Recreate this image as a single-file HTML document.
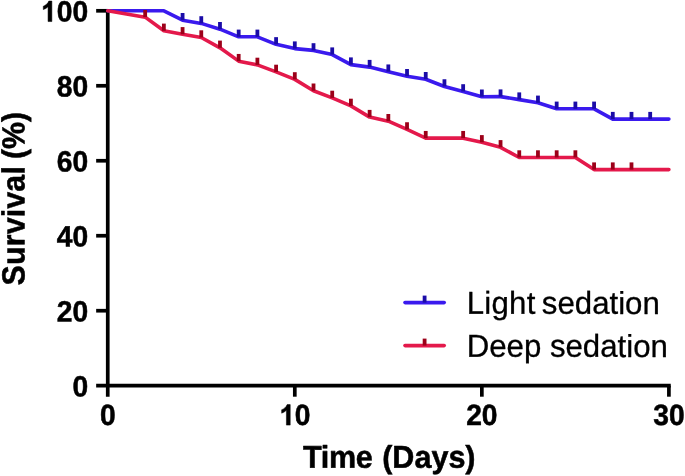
<!DOCTYPE html>
<html><head><meta charset="utf-8"><title>Survival</title>
<style>
html,body{margin:0;padding:0;background:#fff;}
body{width:685px;height:476px;position:relative;overflow:hidden;font-family:"Liberation Sans",sans-serif;}
</style></head><body>
<svg width="685" height="476" viewBox="0 0 685 476" style="position:absolute;left:0;top:0;will-change:transform">
<rect width="685" height="476" fill="#fff"/>
<g stroke="#000" stroke-width="3.7" fill="none">
<line x1="107.75" y1="8.950000000000001" x2="107.75" y2="396.7"/>
<line x1="96.15" y1="385.7" x2="670.75" y2="385.7"/>
<line x1="96.15" y1="310.72" x2="107.75" y2="310.72"/>
<line x1="96.15" y1="235.74" x2="107.75" y2="235.74"/>
<line x1="96.15" y1="160.76" x2="107.75" y2="160.76"/>
<line x1="96.15" y1="85.78" x2="107.75" y2="85.78"/>
<line x1="96.15" y1="10.80" x2="107.75" y2="10.80"/>
<line x1="294.80" y1="385.7" x2="294.80" y2="396.7"/>
<line x1="481.85" y1="385.7" x2="481.85" y2="396.7"/>
<line x1="668.90" y1="385.7" x2="668.90" y2="396.7"/>
</g>
<polyline points="107.75,10.80 126.45,10.80 145.16,10.80 163.87,10.80 182.57,20.20 201.27,23.40 219.98,29.20 238.69,36.80 257.39,36.80 276.09,44.35 294.80,48.60 313.50,50.40 332.21,54.60 350.91,64.60 369.62,67.10 388.32,71.65 407.03,76.20 425.73,79.20 444.44,86.45 463.14,91.40 481.85,96.70 500.55,96.60 519.26,99.60 537.96,102.80 556.67,108.80 575.38,108.80 594.08,108.80 612.78,119.10 631.49,119.10 650.19,119.10 668.90,119.10" fill="none" stroke="#3a1aee" stroke-width="3.6" stroke-linejoin="round" stroke-linecap="round"/>
<rect x="180.67" y="13.00" width="3.8" height="7.2" fill="#1b0ca8"/>
<rect x="199.37" y="16.20" width="3.8" height="7.2" fill="#1b0ca8"/>
<rect x="218.08" y="22.00" width="3.8" height="7.2" fill="#1b0ca8"/>
<rect x="236.78" y="29.60" width="3.8" height="7.2" fill="#1b0ca8"/>
<rect x="255.49" y="29.60" width="3.8" height="7.2" fill="#1b0ca8"/>
<rect x="274.19" y="37.15" width="3.8" height="7.2" fill="#1b0ca8"/>
<rect x="292.90" y="41.40" width="3.8" height="7.2" fill="#1b0ca8"/>
<rect x="311.61" y="43.20" width="3.8" height="7.2" fill="#1b0ca8"/>
<rect x="330.31" y="47.40" width="3.8" height="7.2" fill="#1b0ca8"/>
<rect x="349.01" y="57.40" width="3.8" height="7.2" fill="#1b0ca8"/>
<rect x="367.72" y="59.90" width="3.8" height="7.2" fill="#1b0ca8"/>
<rect x="386.43" y="64.45" width="3.8" height="7.2" fill="#1b0ca8"/>
<rect x="405.13" y="69.00" width="3.8" height="7.2" fill="#1b0ca8"/>
<rect x="423.83" y="72.00" width="3.8" height="7.2" fill="#1b0ca8"/>
<rect x="442.54" y="79.25" width="3.8" height="7.2" fill="#1b0ca8"/>
<rect x="461.25" y="84.20" width="3.8" height="7.2" fill="#1b0ca8"/>
<rect x="479.95" y="89.50" width="3.8" height="7.2" fill="#1b0ca8"/>
<rect x="498.65" y="89.40" width="3.8" height="7.2" fill="#1b0ca8"/>
<rect x="517.36" y="92.40" width="3.8" height="7.2" fill="#1b0ca8"/>
<rect x="536.06" y="95.60" width="3.8" height="7.2" fill="#1b0ca8"/>
<rect x="554.77" y="101.60" width="3.8" height="7.2" fill="#1b0ca8"/>
<rect x="573.48" y="101.60" width="3.8" height="7.2" fill="#1b0ca8"/>
<rect x="592.18" y="101.60" width="3.8" height="7.2" fill="#1b0ca8"/>
<rect x="610.88" y="111.90" width="3.8" height="7.2" fill="#1b0ca8"/>
<rect x="629.59" y="111.90" width="3.8" height="7.2" fill="#1b0ca8"/>
<rect x="648.29" y="111.90" width="3.8" height="7.2" fill="#1b0ca8"/>
<polyline points="107.75,10.80 126.45,13.95 145.16,17.15 163.87,30.80 182.57,34.30 201.27,37.50 219.98,47.80 238.69,61.15 257.39,64.90 276.09,71.90 294.80,79.40 313.50,90.70 332.21,97.90 350.91,105.90 369.62,117.10 388.32,121.20 407.03,129.45 425.73,138.15 444.44,138.15 463.14,138.15 481.85,142.30 500.55,147.30 519.26,157.50 537.96,157.50 556.67,157.50 575.38,157.50 594.08,169.60 612.78,169.60 631.49,169.60 650.19,169.60 668.90,169.60" fill="none" stroke="#e4194b" stroke-width="3.6" stroke-linejoin="round" stroke-linecap="round"/>
<rect x="143.26" y="9.95" width="3.8" height="7.2" fill="#9c0019"/>
<rect x="161.97" y="23.60" width="3.8" height="7.2" fill="#9c0019"/>
<rect x="180.67" y="27.10" width="3.8" height="7.2" fill="#9c0019"/>
<rect x="199.37" y="30.30" width="3.8" height="7.2" fill="#9c0019"/>
<rect x="218.08" y="40.60" width="3.8" height="7.2" fill="#9c0019"/>
<rect x="236.78" y="53.95" width="3.8" height="7.2" fill="#9c0019"/>
<rect x="255.49" y="57.70" width="3.8" height="7.2" fill="#9c0019"/>
<rect x="274.19" y="64.70" width="3.8" height="7.2" fill="#9c0019"/>
<rect x="292.90" y="72.20" width="3.8" height="7.2" fill="#9c0019"/>
<rect x="311.61" y="83.50" width="3.8" height="7.2" fill="#9c0019"/>
<rect x="330.31" y="90.70" width="3.8" height="7.2" fill="#9c0019"/>
<rect x="349.01" y="98.70" width="3.8" height="7.2" fill="#9c0019"/>
<rect x="367.72" y="109.90" width="3.8" height="7.2" fill="#9c0019"/>
<rect x="386.43" y="114.00" width="3.8" height="7.2" fill="#9c0019"/>
<rect x="405.13" y="122.25" width="3.8" height="7.2" fill="#9c0019"/>
<rect x="423.83" y="130.95" width="3.8" height="7.2" fill="#9c0019"/>
<rect x="461.25" y="130.95" width="3.8" height="7.2" fill="#9c0019"/>
<rect x="479.95" y="135.10" width="3.8" height="7.2" fill="#9c0019"/>
<rect x="498.65" y="140.10" width="3.8" height="7.2" fill="#9c0019"/>
<rect x="517.36" y="150.30" width="3.8" height="7.2" fill="#9c0019"/>
<rect x="536.06" y="150.30" width="3.8" height="7.2" fill="#9c0019"/>
<rect x="554.77" y="150.30" width="3.8" height="7.2" fill="#9c0019"/>
<rect x="573.48" y="150.30" width="3.8" height="7.2" fill="#9c0019"/>
<rect x="592.18" y="162.40" width="3.8" height="7.2" fill="#9c0019"/>
<rect x="610.88" y="162.40" width="3.8" height="7.2" fill="#9c0019"/>
<rect x="629.59" y="162.40" width="3.8" height="7.2" fill="#9c0019"/>
<g font-family="'Liberation Sans', sans-serif" fill="#000" stroke="#000" stroke-width="0.5" stroke-linejoin="round">
<g aria-label="0"><text transform="translate(72.46,396.45) rotate(0.03) scale(1,1.0418)" font-size="28.2" font-weight="bold">0</text></g>
<g aria-label="20"><text transform="translate(56.76,321.47) rotate(0.03) scale(1,1.0418)" font-size="28.2" font-weight="bold">2</text><text transform="translate(72.46,321.47) rotate(0.03) scale(1,1.0418)" font-size="28.2" font-weight="bold">0</text></g>
<g aria-label="40"><text transform="translate(56.76,246.49) rotate(0.03) scale(1,1.0418)" font-size="28.2" font-weight="bold">4</text><text transform="translate(72.46,246.49) rotate(0.03) scale(1,1.0418)" font-size="28.2" font-weight="bold">0</text></g>
<g aria-label="60"><text transform="translate(56.76,171.51) rotate(0.03) scale(1,1.0418)" font-size="28.2" font-weight="bold">6</text><text transform="translate(72.46,171.51) rotate(0.03) scale(1,1.0418)" font-size="28.2" font-weight="bold">0</text></g>
<g aria-label="80"><text transform="translate(56.76,96.53) rotate(0.03) scale(1,1.0418)" font-size="28.2" font-weight="bold">8</text><text transform="translate(72.46,96.53) rotate(0.03) scale(1,1.0418)" font-size="28.2" font-weight="bold">0</text></g>
<g aria-label="100"><path transform="translate(40.76,21.55) scale(0.01377,-0.01455)" d="M806 0H530V1018Q390 885 185 820V1055Q290 1085 416 1182Q536 1280 584 1409H806Z" stroke-width="36.3"/><text transform="translate(56.76,21.55) rotate(0.03) scale(1,1.0418)" font-size="28.2" font-weight="bold">0</text><text transform="translate(72.46,21.55) rotate(0.03) scale(1,1.0418)" font-size="28.2" font-weight="bold">0</text></g>
<g aria-label="0"><text transform="translate(99.91,425.10) rotate(0.03) scale(1,1.0418)" font-size="28.2" font-weight="bold">0</text></g>
<g aria-label="10"><path transform="translate(279.11,425.10) scale(0.01377,-0.01455)" d="M806 0H530V1018Q390 885 185 820V1055Q290 1085 416 1182Q536 1280 584 1409H806Z" stroke-width="36.3"/><text transform="translate(294.81,425.10) rotate(0.03) scale(1,1.0418)" font-size="28.2" font-weight="bold">0</text></g>
<g aria-label="20"><text transform="translate(466.16,425.10) rotate(0.03) scale(1,1.0418)" font-size="28.2" font-weight="bold">2</text><text transform="translate(481.86,425.10) rotate(0.03) scale(1,1.0418)" font-size="28.2" font-weight="bold">0</text></g>
<g aria-label="30"><text transform="translate(653.21,425.10) rotate(0.03) scale(1,1.0418)" font-size="28.2" font-weight="bold">3</text><text transform="translate(668.91,425.10) rotate(0.03) scale(1,1.0418)" font-size="28.2" font-weight="bold">0</text></g>
<text transform="translate(389.25,467.70) rotate(0.03) scale(1,1.03)" font-size="30.55" font-weight="bold" text-anchor="middle"><tspan letter-spacing="-0.3">Time</tspan><tspan dx="1.2"> (Days)</tspan></text>
<text transform="translate(24.50,198.70) rotate(-90) rotate(0.03) scale(1,1.06)" font-size="30.3" font-weight="bold" text-anchor="middle"><tspan letter-spacing="0.19">Survival</tspan><tspan dx="-1.5"> (%)</tspan></text>
<text transform="translate(466.70,313.80) rotate(0.03) scale(1,1.015)" font-size="31.2" font-weight="normal" text-anchor="start" stroke-width="0.3"><tspan letter-spacing="0.25">Light</tspan><tspan dx="-2.4"> sedation</tspan></text>
<text transform="translate(466.70,356.80) rotate(0.03) scale(1,1.015)" font-size="31.2" font-weight="normal" text-anchor="start" stroke-width="0.3">Deep sedation</text>
</g>
<line x1="405" y1="302.6" x2="444.2" y2="302.6" stroke="#3a1aee" stroke-width="3.6" stroke-linecap="round"/>
<rect x="422.70000000000005" y="295.6" width="3.8" height="7" fill="#1b0ca8"/>
<line x1="405" y1="345.6" x2="444.2" y2="345.6" stroke="#e4194b" stroke-width="3.6" stroke-linecap="round"/>
<rect x="422.70000000000005" y="338.6" width="3.8" height="7" fill="#9c0019"/>
</svg>
</body></html>
